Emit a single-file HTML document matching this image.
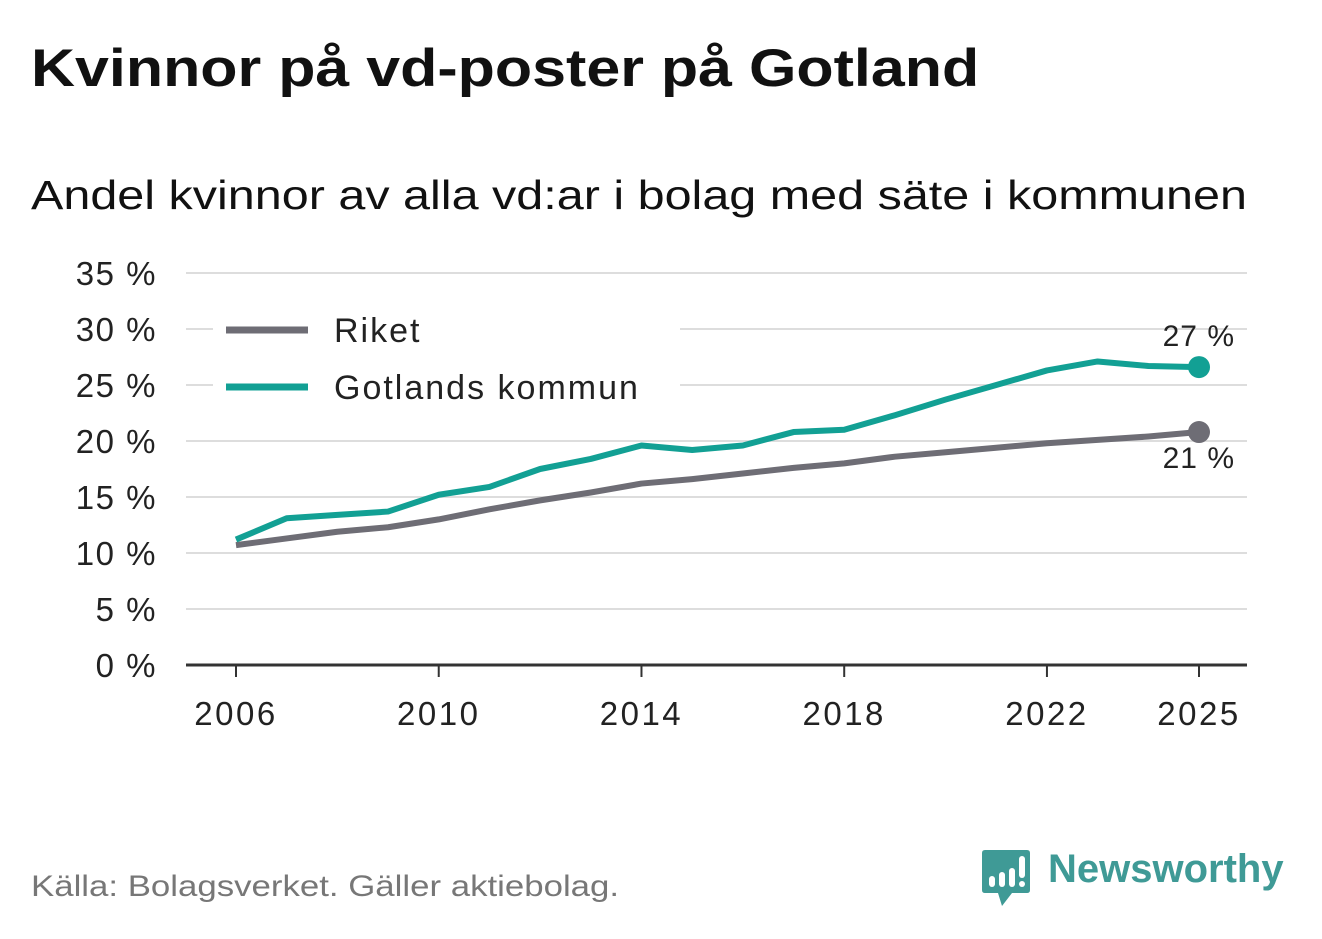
<!DOCTYPE html>
<html><head><meta charset="utf-8"><style>
body{margin:0;width:1322px;height:939px;background:#fff;font-family:"Liberation Sans","DejaVu Sans",sans-serif;overflow:hidden;position:relative}
.t{position:absolute;white-space:nowrap;transform-origin:0 0}
</style></head><body>
<div class="t" style="left:31px;top:38px;font-size:53px;font-weight:bold;color:#111;transform:scaleX(1.15)">Kvinnor på vd-poster på Gotland</div>
<div class="t" style="left:31px;top:172px;font-size:41px;color:#111;transform:scaleX(1.183)">Andel kvinnor av alla vd:ar i bolag med säte i kommunen</div>
<svg id="chart" width="1322" height="939" style="position:absolute;left:0;top:0"></svg>
<div class="t" style="left:31px;top:870px;font-size:30px;color:#777;transform:scaleX(1.16)">Källa: Bolagsverket. Gäller aktiebolag.</div>
<div style="position:absolute;left:982px;top:850px">
<svg width="50" height="60" style="position:absolute;left:0;top:0"><path d="M0 3 Q0 0 3 0 L45 0 Q48 0 48 3 L48 40 Q48 43 45 43 L30 43 L20 56 L16 43 L3 43 Q0 43 0 40Z" fill="#3f9a96"/><rect x="7" y="26" width="6" height="11" rx="3" fill="#fff"/><rect x="17" y="22" width="6" height="15" rx="3" fill="#fff"/><rect x="27" y="18" width="6" height="19" rx="3" fill="#fff"/><rect x="37" y="6" width="6" height="22" rx="3" fill="#fff"/><circle cx="40" cy="34" r="3" fill="#fff"/></svg>
<div class="t" style="left:66px;top:-3px;font-size:40px;font-weight:bold;color:#3f9a96">Newsworthy</div>
</div>
<script>
const years=[2006,2007,2008,2009,2010,2011,2012,2013,2014,2015,2016,2017,2018,2019,2020,2021,2022,2023,2024,2025];
const riket=[10.7,11.3,11.9,12.3,13.0,13.9,14.7,15.4,16.2,16.6,17.1,17.6,18.0,18.6,19.0,19.4,19.8,20.1,20.4,20.8];
const gotland=[11.2,13.1,13.4,13.7,15.2,15.9,17.5,18.4,19.6,19.2,19.6,20.8,21.0,22.3,23.7,25.0,26.3,27.1,26.7,26.6];
const yTicks=[0,5,10,15,20,25,30,35];
const xTicks=[2006,2010,2014,2018,2022,2025];
const svg=document.getElementById('chart');const NS='http://www.w3.org/2000/svg';
const X=v=>236+(v-2006)*(1199-236)/19;
const Y=v=>665-v*(392/35);
const F='Liberation Sans, sans-serif';
function mk(t,a,txt){const e=document.createElementNS(NS,t);for(const k in a)e.setAttribute(k,a[k]);if(txt!==undefined)e.textContent=txt;svg.appendChild(e);return e;}
yTicks.forEach(v=>{
 if(v>0){const g=mk('line',{x1:186,x2:1247,y1:Y(v),y2:Y(v),stroke:'#ddd','stroke-width':2});
 
 }
 const t=mk('text',{x:157,y:Y(v)+12,'text-anchor':'end','font-size':33,'letter-spacing':1.5,fill:'#222','font-family':F},v+' %');
 
 
});
const ax=mk('line',{x1:186,x2:1247,y1:665,y2:665,stroke:'#333','stroke-width':3});


xTicks.forEach(v=>{
 const tk=mk('line',{x1:X(v),x2:X(v),y1:665,y2:677,stroke:'#333','stroke-width':2});
 
 
 const t=mk('text',{x:X(v),y:725,'text-anchor':'middle','font-size':33,'letter-spacing':2.5,fill:'#222','font-family':F},v);
 
 
});
const lb=mk('rect',{x:213,y:305,width:467,height:110,fill:'#fff'});


[['Riket','#6e6d75',330],['Gotlands kommun','#12a094',387]].forEach(([n,c,y])=>{
 const l=mk('line',{x1:226,x2:308,y1:y,y2:y,stroke:c,'stroke-width':7});
 
 
 const t=mk('text',{x:334,y:y+12,'font-size':34,'letter-spacing':2,fill:'#222','font-family':F},n);
 
 
});
function series(d,c,name,dy){
 const p=mk('polyline',{points:d.map((v,i)=>X(years[i])+','+Y(v)).join(' '),fill:'none',stroke:c,'stroke-width':6,'stroke-linejoin':'round'});
 
 
 const last=d[d.length-1];
 const dt=mk('circle',{cx:X(years[years.length-1]),cy:Y(last),r:11,fill:c});
 
 
 const t=mk('text',{x:1235,y:Y(last)+dy,'text-anchor':'end','font-size':30,'letter-spacing':1,fill:'#222','font-family':F},Math.round(last)+' %');
 
 
}
series(riket,'#6e6d75','riket',36);
series(gotland,'#12a094','gotland',-21);
</script>
</body></html>
